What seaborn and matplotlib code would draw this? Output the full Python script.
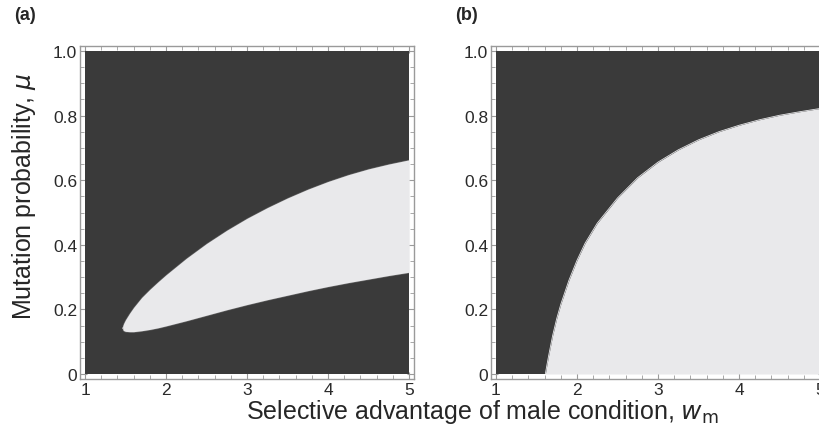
import numpy as np
import pandas as pd
import matplotlib
matplotlib.use("Agg")
import matplotlib.pyplot as plt
from matplotlib.ticker import MultipleLocator
import seaborn as sns

# panel (a): the light region between two boundaries
a_w = [1.465, 1.47, 1.48, 1.5, 1.55, 1.6, 1.7, 1.8, 1.9, 2.0, 2.25, 2.5, 2.75, 3.0, 3.25,
       3.5, 3.75, 4.0, 4.25, 4.5, 4.75, 5.0]
a_upper = [0.141, 0.152, 0.158, 0.168, 0.188, 0.206, 0.237, 0.262, 0.285, 0.307, 0.358,
           0.404, 0.445, 0.482, 0.515, 0.545, 0.572, 0.596, 0.617, 0.635, 0.650, 0.663]
a_lower = [0.141, 0.136, 0.134, 0.132, 0.131, 0.131, 0.134, 0.138, 0.143, 0.149, 0.165,
           0.182, 0.199, 0.215, 0.230, 0.244, 0.258, 0.271, 0.283, 0.294, 0.305, 0.315]

# panel (b): light region below one boundary
b_w = [1.609, 1.63, 1.65, 1.7, 1.75, 1.8, 1.9, 2.0, 2.1, 2.25, 2.5, 2.75, 3.0, 3.25,
       3.5, 3.75, 4.0, 4.25, 4.5, 4.75, 5.0]
b_upper = [0.0, 0.03, 0.057, 0.12, 0.172, 0.216, 0.290, 0.352, 0.405, 0.467, 0.545,
           0.608, 0.656, 0.694, 0.725, 0.750, 0.770, 0.787, 0.801, 0.812, 0.822]

x_ticks = [1, 2, 3, 4, 5]
y_ticks = [0, 0.2, 0.4, 0.6, 0.8, 1.0]
y_tick_labels = ["0", "0.2", "0.4", "0.6", "0.8", "1.0"]

dark = "#3a3a3a"
light = "#e9e9eb"
frame = "#9a9a9a"

sns.set_theme(style="ticks")
plt.rcParams["font.family"] = ["Liberation Sans", "DejaVu Sans"]

fig = plt.figure(figsize=(8.19, 4.35), dpi=100)
ax_a = fig.add_axes([80 / 819, 55 / 435, 334 / 819, 333 / 435])
ax_b = fig.add_axes([491 / 819, 55 / 435, 334 / 819, 333 / 435])

pad_x = 5 / 81
pad_y = 5 / 323


def setup(ax):
    ax.set_facecolor("white")
    ax.set_xlim(1 - pad_x, 5 + pad_x)
    ax.set_ylim(-pad_y, 1 + pad_y)
    # dark background of the whole parameter domain
    ax.fill_between([1, 5], [0, 0], [1, 1], color=dark, lw=0, zorder=1)
    ax.set_xticks(x_ticks)
    ax.set_xticklabels([str(t) for t in x_ticks])
    ax.set_yticks(y_ticks)
    ax.set_yticklabels(y_tick_labels)
    ax.xaxis.set_minor_locator(MultipleLocator(0.2))
    ax.yaxis.set_minor_locator(MultipleLocator(0.05))
    ax.tick_params(which="both", direction="in", top=True, right=True,
                   color=frame, labelsize=12.5, labelcolor="#2a2a2a", pad=2)
    ax.tick_params(which="major", length=5, width=0.8)
    ax.tick_params(which="minor", length=3, width=0.6)
    for s in ax.spines.values():
        s.set_color(frame)
        s.set_linewidth(1.0)


setup(ax_a)
ax_a.fill_between(a_w, a_lower, a_upper, color=light, lw=0, zorder=2)
edge_a = pd.DataFrame({"w": a_w + a_w[::-1], "mu": a_upper + a_lower[::-1]})
sns.lineplot(data=edge_a, x="w", y="mu", sort=False, color=light, lw=0.6,
             ax=ax_a, zorder=3)

setup(ax_b)
ax_b.fill_between(b_w, [0] * len(b_w), b_upper, color=light, lw=0, zorder=2)
edge_b = pd.DataFrame({"w": b_w, "mu": b_upper})
sns.lineplot(data=edge_b, x="w", y="mu", sort=False, color=light, lw=0.6,
             ax=ax_b, zorder=3)

for ax in (ax_a, ax_b):
    ax.set_xlabel("")
    ax.set_ylabel("")

fig.text(14 / 819, 1 - 16 / 435, "(a)", fontsize=13, fontweight="bold",
         ha="left", va="center")
fig.text(455 / 819, 1 - 16 / 435, "(b)", fontsize=13, fontweight="bold",
         ha="left", va="center")

fig.text(482 / 819, 1 - 412 / 435,
         r"Selective advantage of male condition, $w_{\mathrm{m}}$",
         fontsize=18, ha="center", va="center")
fig.text(24 / 819, 1 - 196 / 435, r"Mutation probability, $\mu$",
         fontsize=18, ha="center", va="center", rotation=90)

fig.savefig("out.png", dpi=100)
